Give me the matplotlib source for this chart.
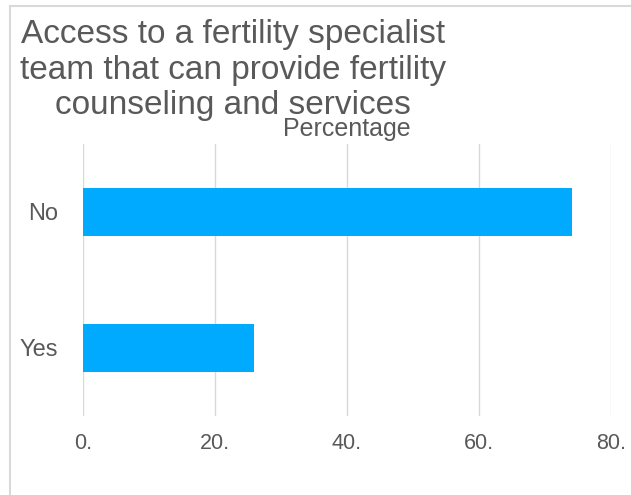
"""
Horizontal bar chart: access to a fertility specialist team
"""
import matplotlib
matplotlib.use('Agg')
import matplotlib.pyplot as plt
from matplotlib.lines import Line2D

# Data
categories = ['Yes', 'No']
percentages = [25.9, 74.1]
x_ticks = [0, 20, 40, 60, 80]
x_tick_labels = ['0.', '20.', '40.', '60.', '80.']
title = 'Access to a fertility specialist\nteam that can provide fertility\ncounseling and services'

plt.rcParams['font.family'] = ['Liberation Sans', 'DejaVu Sans']

text_color = '#595959'
grid_color = '#d9d9d9'
bar_color = '#00aaff'

W, H = 631, 495
fig = plt.figure(figsize=(W / 100, H / 100), dpi=100)
ax = fig.add_axes([83 / W, 1 - 416 / H, (611 - 83) / W, (416 - 144) / H])

ax.barh(categories, percentages, height=0.36, color=bar_color, zorder=2)
ax.set_xlim(0, 80)
ax.set_ylim(-0.5, 1.5)

ax.set_xticks(x_ticks)
ax.set_xticklabels(x_tick_labels)
ax.grid(axis='x', color=grid_color, linewidth=1, zorder=0)
ax.tick_params(axis='x', length=0, pad=12, labelsize=15.5, labelcolor=text_color)
ax.tick_params(axis='y', length=0, pad=18, labelsize=17, labelcolor=text_color)
for s in ax.spines.values():
    s.set_visible(False)

ax.set_xlabel('Percentage', fontsize=18, color=text_color, labelpad=6)
ax.xaxis.set_label_position('top')

fig.text(233 / W, 1 - 70 / H, title, ha='center', va='center', fontsize=24,
         color=text_color, linespacing=1.18)

# Outer frame lines (top and left)
fig.add_artist(Line2D([10 / W, 1], [1 - 6 / H, 1 - 6 / H], color=grid_color, lw=1.5))
fig.add_artist(Line2D([10 / W, 10 / W], [0, 1 - 6 / H], color=grid_color, lw=1.5))

fig.savefig('out.png', dpi=100)
